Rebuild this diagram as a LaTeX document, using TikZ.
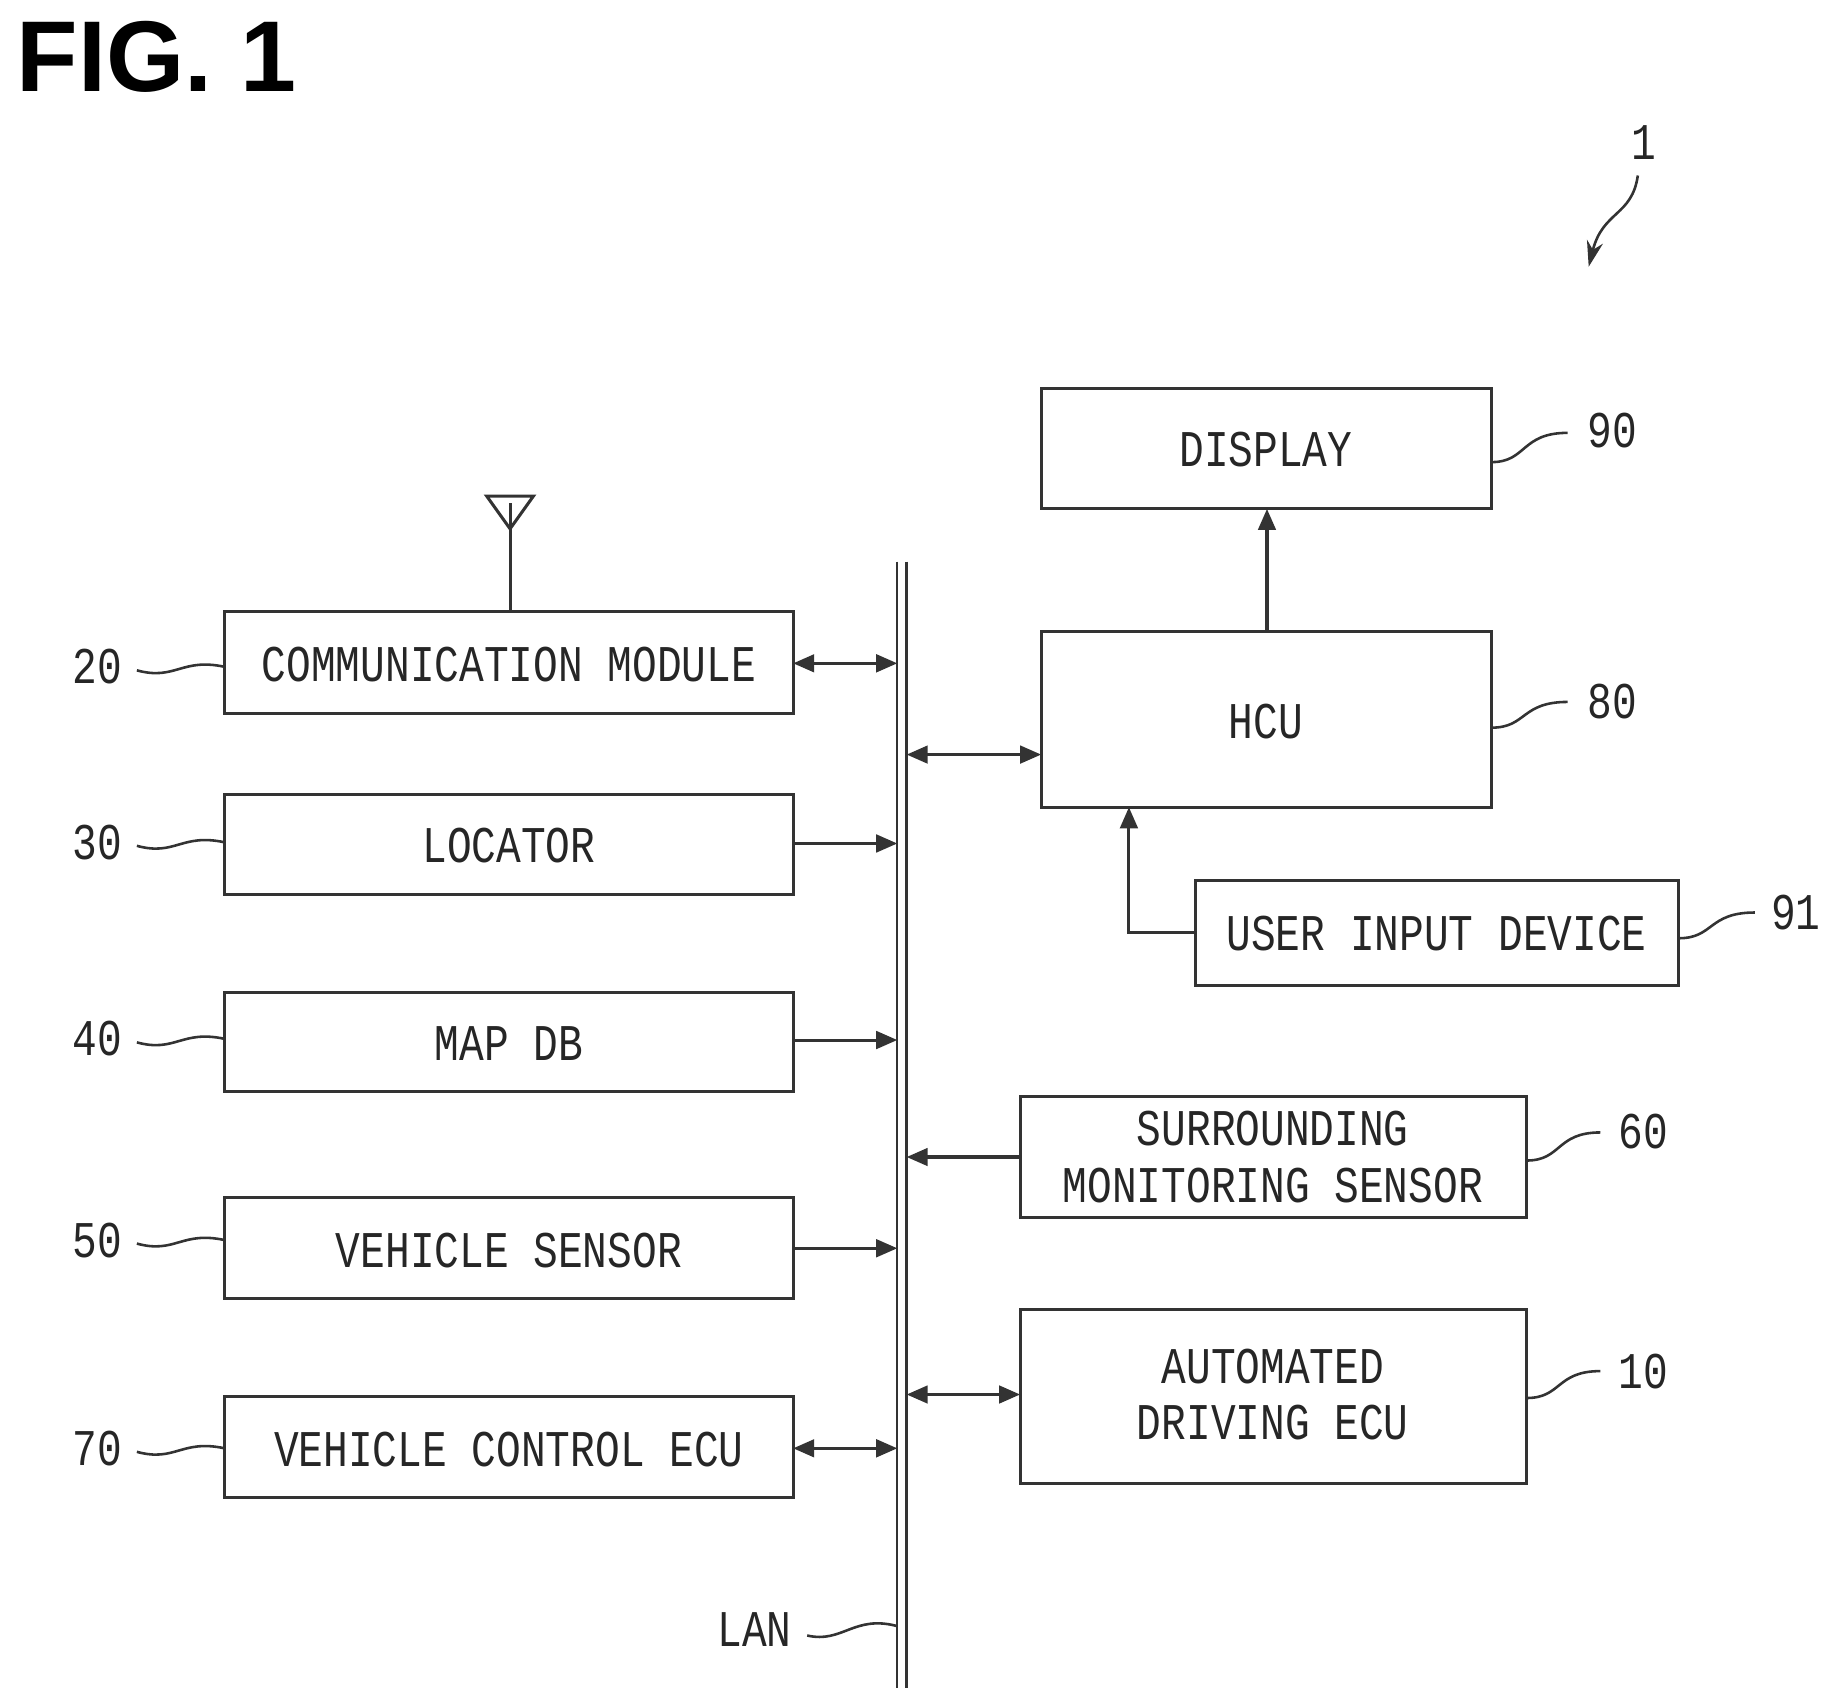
\documentclass[tikz,border=0pt]{standalone}
\usepackage{fontspec}
\setmainfont{Liberation Sans}
\newfontfamily\pf[FakeStretch=0.8]{Liberation Mono}
\usetikzlibrary{arrows.meta}
\begin{document}
\begin{tikzpicture}[x=1pt,y=-1pt,
  ln/.style={draw=black!80,line width=2.6pt},
  box/.style={ln,fill=white},
  txt/.style={font=\pf\fontsize{44}{46}\selectfont,align=center,text=black!85},
  ar/.style={ln,-{Triangle[length=18pt,width=15pt]}},
  dar/.style={ln,{Triangle[length=18pt,width=15pt]}-{Triangle[length=18pt,width=15pt]}},
  wv/.style={ln,line width=2.2pt}]
\useasboundingbox (0,0) rectangle (1560,1453);
\node[anchor=north west,font=\bfseries\fontsize{86}{86}\selectfont,inner sep=0] (fig) at (14,18) {FIG. 1};
% boxes
\draw[box] (890,332) rectangle (1275,435); \node[txt] (disp) at (1082,384) {DISPLAY};
\draw[box] (890,540) rectangle (1275,690); \node[txt] (hcu) at (1082,617) {HCU};
\draw[box] (1022,753) rectangle (1435,842); \node[txt] (uid) at (1228,798) {USER INPUT DEVICE};
\draw[box] (872,937) rectangle (1305,1041); \node[txt] (sms) at (1088,989) {SURROUNDING\\[2pt]MONITORING SENSOR};
\draw[box] (872,1119) rectangle (1305,1268); \node[txt] (ade) at (1088,1192) {AUTOMATED\\[2pt]DRIVING ECU};
\draw[box] (192,523) rectangle (678,610); \node[txt] (cm) at (435,568) {COMMUNICATION MODULE};
\draw[box] (192,679) rectangle (678,765); \node[txt] (loc) at (435,723) {LOCATOR};
\draw[box] (192,848) rectangle (678,933); \node[txt] (map) at (435,892) {MAP DB};
\draw[box] (192,1024) rectangle (678,1110); \node[txt] (vs) at (435,1069) {VEHICLE SENSOR};
\draw[box] (192,1194) rectangle (678,1280); \node[txt] (vce) at (435,1239) {VEHICLE CONTROL ECU};
% bus
\draw[ln,line width=2pt] (767,480) -- (767,1443);
\draw[ln,line width=2pt] (775,480) -- (775,1443);
% antenna
\draw[ln] (436,523) -- (436,430);
\draw[ln] (416,424) -- (456,424) -- (436,452) -- cycle;
% connectors
\draw[dar] (678,567) -- (767,567);
\draw[ar] (678,721) -- (767,721);
\draw[ar] (678,889) -- (767,889);
\draw[ar] (678,1067) -- (767,1067);
\draw[dar] (678,1238) -- (767,1238);
\draw[dar] (775,645) -- (890,645);
\draw[ar] (872,989) -- (775,989);
\draw[dar] (775,1192) -- (872,1192);
\draw[ar] (1083,540) -- (1083,435);
\draw[ar] (1022,797) -- (965,797) -- (965,690);
% labels
\node[txt] (n90) at (1378,368) {90};
\draw[wv] (1275,395) .. controls (1305,395) and (1300,370) .. (1340,370);
\node[txt] (n80) at (1378,600) {80};
\draw[wv] (1275,622) .. controls (1305,622) and (1300,600) .. (1340,600);
\node[txt] (n91) at (1535,780) {91};
\draw[wv] (1435,802) .. controls (1465,802) and (1460,780) .. (1500,780);
\node[txt] (n60) at (1405,967) {60};
\draw[wv] (1305,992) .. controls (1335,992) and (1330,968) .. (1368,968);
\node[txt] (n10) at (1405,1172) {10};
\draw[wv] (1305,1195) .. controls (1335,1195) and (1330,1172) .. (1368,1172);
\foreach \n/\y in {20/570,30/720,40/888,50/1060,70/1238}{
  \node[txt] (l\n) at (83,\y) {\n};
  \draw[wv] (117,\y+3) .. controls (150,\y+12) and (155,\y-8) .. (192,\y);
}
\node[txt] (lan) at (645,1393) {LAN};
\draw[wv] (690,1398) .. controls (720,1405) and (730,1380) .. (767,1390);
\node[txt] (one) at (1405,122) {1};
\draw[ln,line width=2.2pt,-{Stealth[length=22pt,width=14pt]}] (1400,150) .. controls (1395,185) and (1370,180) .. (1358,228);
\end{tikzpicture}
\end{document}
